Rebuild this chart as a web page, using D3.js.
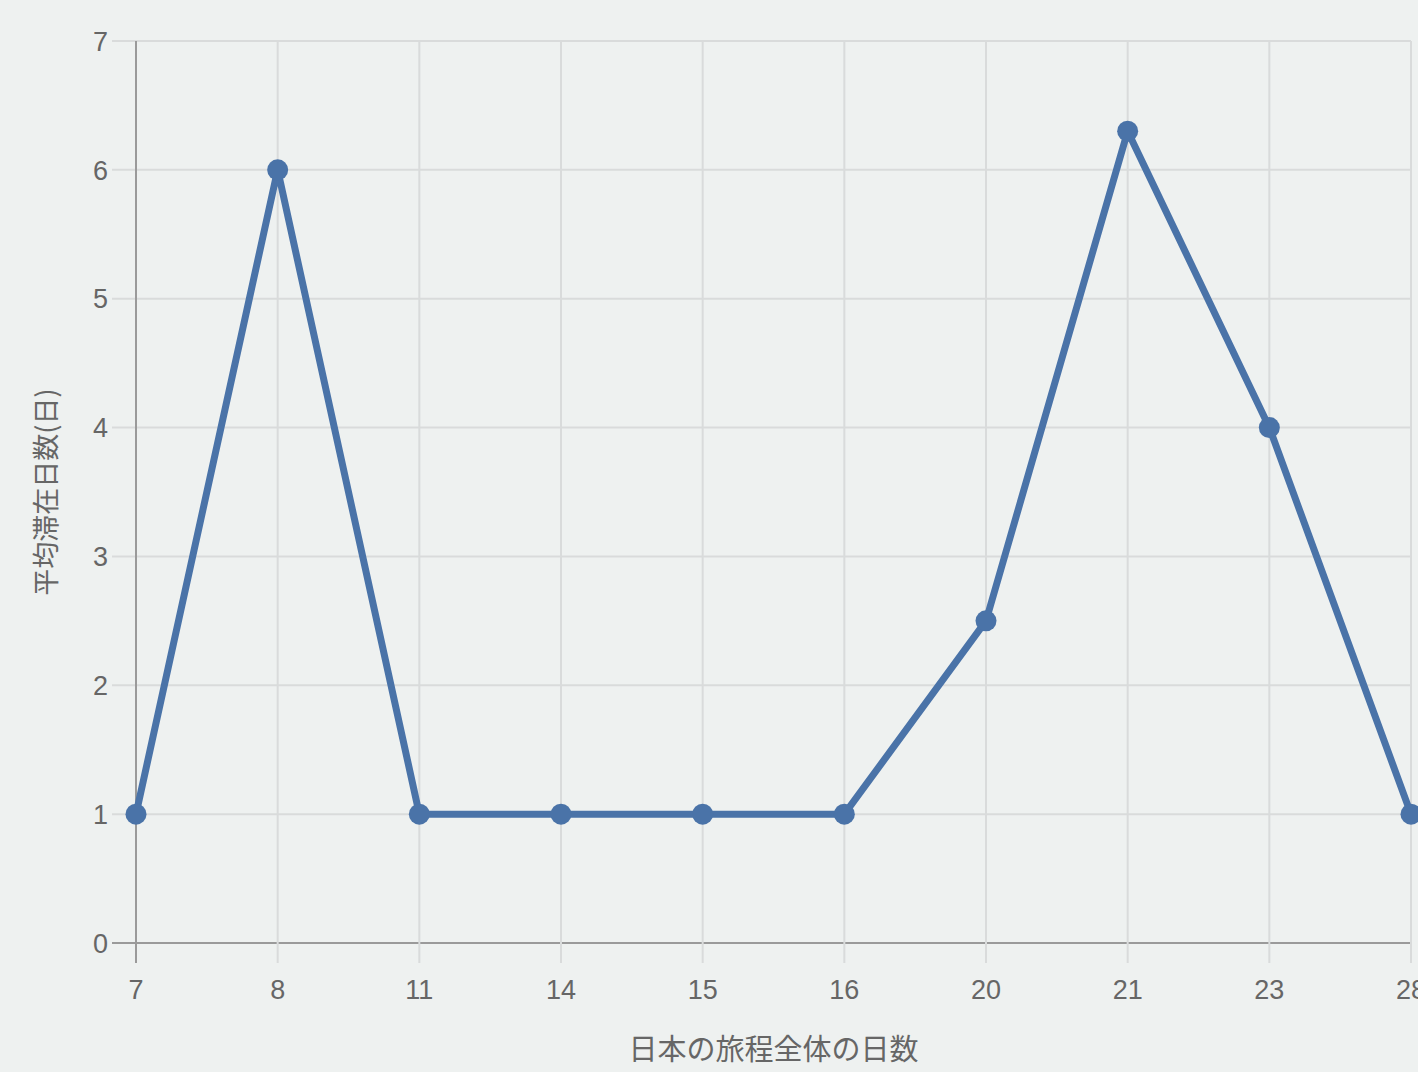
<!DOCTYPE html>
<html lang="ja">
<head>
<meta charset="UTF-8">
<title>平均滞在日数</title>
<script src="https://d3js.org/d3.v7.min.js"></script>
<style>
    html, body { margin: 0; padding: 0; background: #eef1f0; }
    svg { display: block; }
    text { font-family: "Noto Sans CJK JP", "Liberation Sans", Arial, sans-serif; fill: #666; }
    .tick-label { font-family: "Liberation Sans", Arial, sans-serif; }
</style>
</head>
<body>
<svg id="chart"></svg>
<script>
    // data
    const tripDays = ["7", "8", "11", "14", "15", "16", "20", "21", "23", "28"];
    const avgStay = [1, 6, 1, 1, 1, 1, 2.5, 6.3, 4, 1];
    const yTicks = [0, 1, 2, 3, 4, 5, 6, 7];
    const xTitle = "日本の旅程全体の日数";
    const yTitle = "平均滞在日数(日)";

    const W = 1418, H = 1072;
    const margin = { top: 41, right: 7, bottom: 129, left: 136 };
    const svg = d3.select("#chart").attr("width", W).attr("height", H);

    const x = d3.scalePoint().domain(tripDays).range([margin.left, W - margin.right]);
    const y = d3.scaleLinear().domain([0, 7]).range([H - margin.bottom, margin.top]);

    // grid lines
    svg.append("g")
        .selectAll("line")
        .data(yTicks)
        .join("line")
        .attr("x1", margin.left - 24).attr("x2", W - margin.right)
        .attr("y1", d => y(d)).attr("y2", d => y(d))
        .attr("stroke", d => d === 0 ? "#9a9a9a" : "#d9dbdb")
        .attr("stroke-width", 2);

    svg.append("g")
        .selectAll("line")
        .data(tripDays)
        .join("line")
        .attr("x1", d => x(d)).attr("x2", d => x(d))
        .attr("y1", margin.top).attr("y2", y(0) + 20)
        .attr("stroke", (d, i) => i === 0 ? "#9a9a9a" : "#d9dbdb")
        .attr("stroke-width", 2);

    // tick labels
    svg.append("g")
        .selectAll("text")
        .data(yTicks)
        .join("text")
        .attr("class", "tick-label")
        .attr("x", margin.left - 28)
        .attr("y", d => y(d))
        .attr("dy", "0.36em")
        .attr("text-anchor", "end")
        .attr("font-size", 27)
        .text(d => d);

    svg.append("g")
        .selectAll("text")
        .data(tripDays)
        .join("text")
        .attr("class", "tick-label")
        .attr("x", d => x(d))
        .attr("y", y(0) + 56)
        .attr("text-anchor", "middle")
        .attr("font-size", 27)
        .text(d => d);

    // axis titles
    svg.append("text")
        .attr("x", (margin.left + W - margin.right) / 2)
        .attr("y", H - 12)
        .attr("text-anchor", "middle")
        .attr("font-size", 29)
        .text(xTitle);

    svg.append("text")
        .attr("transform", `translate(56, ${(margin.top + y(0)) / 2}) rotate(-90)`)
        .attr("text-anchor", "middle")
        .attr("font-size", 27)
        .text(yTitle);

    // line and points
    const pts = tripDays.map((d, i) => ({ k: d, v: avgStay[i] }));
    const line = d3.line().x(d => x(d.k)).y(d => y(d.v));

    svg.append("path")
        .datum(pts)
        .attr("d", line)
        .attr("fill", "none")
        .attr("stroke", "#4a73a8")
        .attr("stroke-width", 7)
        .attr("stroke-linejoin", "round");

    svg.append("g")
        .selectAll("circle")
        .data(pts)
        .join("circle")
        .attr("cx", d => x(d.k))
        .attr("cy", d => y(d.v))
        .attr("r", 10.5)
        .attr("fill", "#4a73a8");
</script>
</body>
</html>
